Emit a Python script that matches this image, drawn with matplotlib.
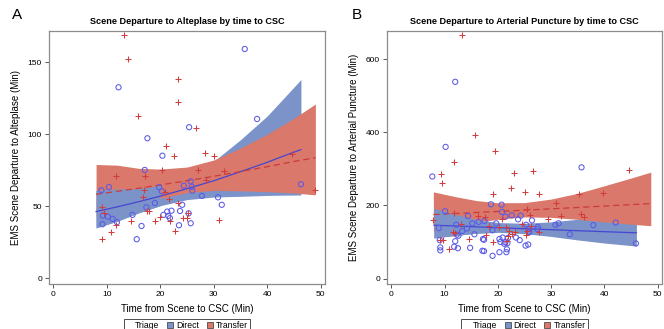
import matplotlib
matplotlib.use("Agg")
import matplotlib.pyplot as plt
from matplotlib.patches import Patch
import numpy as np

plt.rcParams["font.family"] = ["Liberation Sans", "DejaVu Sans"]

# ---- panel A: scene departure to alteplase ----
a_direct_x = [35.8, 12.2, 38.1, 25.4, 17.6, 20.4, 17.1, 25.7, 24.4, 25.9, 26.0, 19.8, 20.3, 10.4, 9.0,
              27.8, 30.8, 31.5, 46.3, 19.0, 24.1, 17.4, 9.3, 10.2, 14.8, 22.1, 21.3, 20.6, 21.5, 21.8,
              23.7, 23.5, 25.3, 25.7, 16.5, 15.6, 11.1, 11.9, 9.2]
a_direct_y = [159.2, 132.6, 110.6, 104.9, 97.2, 85.1, 75.2, 67.3, 64.3, 63.5, 60.8, 63.2, 60.4, 63.3, 61.1,
              57.2, 56.2, 51.0, 65.3, 52.2, 51.0, 49.3, 43.5, 42.8, 44.0, 46.9, 46.3, 44.0, 43.3, 41.7,
              46.7, 36.8, 45.1, 38.2, 36.3, 27.1, 41.2, 38.9, 37.5]
a_transfer_x = [13.3, 13.9, 23.3, 23.4, 15.9, 26.7, 21.1, 22.6, 28.3, 30.0, 44.7, 20.3, 11.7, 17.2, 27.0,
                32.0, 28.5, 20.8, 17.0, 16.7, 48.9, 21.6, 23.3, 9.2, 9.4, 17.5, 17.9, 19.9, 11.7, 14.6,
                19.0, 21.8, 25.2, 24.3, 25.0, 22.8, 10.8, 9.2, 31.0]
a_transfer_y = [168.7, 152.5, 138.4, 122.2, 112.5, 104.4, 91.9, 84.7, 86.8, 84.8, 86.2, 75.2, 71.2, 70.7, 75.1,
                74.6, 67.9, 59.6, 61.5, 56.5, 61.1, 54.9, 52.3, 49.5, 45.6, 46.7, 46.7, 42.3, 37.0, 40.0,
                39.9, 39.9, 45.4, 41.8, 42.0, 32.8, 32.3, 27.1, 40.2]

# fitted curves and confidence limits
a_dir_bx = [8, 12, 16, 20, 25, 30, 35, 40, 43, 46.3]
a_dir_fit = [46.3, 49.6, 53.2, 57.0, 62.2, 67.7, 74.0, 80.5, 84.8, 89.3]
a_dir_lo = [35.0, 39.7, 45.5, 50.4, 54.6, 56.4, 56.9, 57.5, 57.7, 57.8]
a_dir_hi = [61.0, 62.0, 62.2, 64.4, 70.9, 81.2, 96.2, 112.7, 124.7, 138.0]
a_tr_bx = [8, 12, 16, 20, 25, 30, 35, 40, 45, 49]
a_tr_fit = [58.3, 60.4, 62.5, 64.8, 67.7, 70.8, 74.1, 77.5, 81.1, 83.7]
a_tr_lo = [43.0, 46.5, 51.2, 55.4, 59.4, 61.0, 60.7, 60.1, 59.2, 57.9]
a_tr_hi = [79.0, 78.5, 76.3, 75.8, 77.2, 82.1, 90.4, 100.0, 111.1, 121.0]

# ---- panel B: scene departure to arterial puncture ----
b_direct_x = [12.0, 10.2, 35.7, 7.7, 18.7, 20.7, 10.1, 20.8, 14.4, 21.4, 22.6, 24.3, 16.4, 17.5, 23.8,
              26.4, 19.7, 15.2, 25.3, 27.5, 30.8, 31.4, 37.9, 42.1, 8.9, 12.2, 12.6, 13.3, 14.2, 15.6,
              19.0, 23.4, 21.9, 20.9, 24.1, 20.3, 25.7, 25.9, 17.2, 17.4, 33.5, 45.9, 9.2, 9.2, 12.0,
              11.8, 12.5, 14.8, 17.1, 17.4, 19.0, 20.3, 21.6, 21.7, 21.4, 25.2, 25.7, 20.5, 27.4, 25.8,
              9.1, 21.2, 21.8, 12.3]
b_direct_y = [538, 360, 304, 279, 203, 202, 184, 182, 171, 169, 173, 172, 155, 157, 162,
              159, 151, 151, 147, 141, 147, 151, 146, 153, 138, 147, 117, 130, 137, 121,
              132, 112, 111, 112, 105, 108, 136, 128, 108, 106, 121, 96, 85, 77, 102,
              87, 83, 84, 76, 75, 62, 72, 72, 80, 99, 90, 93, 100, 135, 126,
              105, 95, 97, 120]
b_transfer_x = [13.3, 15.8, 19.4, 11.7, 44.6, 26.6, 9.4, 23.0, 9.6, 22.5, 25.0, 27.7, 19.0, 35.3, 39.7,
                30.9, 25.4, 35.6, 36.1, 31.9, 26.1, 11.7, 7.9, 16.3, 29.5, 20.7, 11.5, 20.2, 22.1, 22.7,
                23.3, 25.4, 25.2, 27.8, 9.1, 10.8, 14.6, 21.7, 19.1, 13.0, 17.8, 18.3, 24.6, 21.5, 12.0,
                9.7, 17.5, 21.9, 26.2]
b_transfer_y = [666, 393, 349, 320, 298, 295, 286, 288, 261, 247, 236, 231, 230, 230, 234,
                207, 190, 177, 169, 172, 173, 178, 160, 171, 162, 164, 128, 141, 130, 123,
                128, 130, 119, 128, 105, 82, 108, 102, 99, 148, 120, 145, 150, 140, 125,
                105, 168, 115, 145]

b_dir_bx = [8, 12, 16, 20, 25, 30, 35, 40, 46]
b_dir_fit = [146.0, 143.6, 141.3, 139.0, 136.2, 133.5, 130.8, 128.1, 125.0]
b_dir_lo = [111.0, 117.7, 123.9, 126.4, 122.7, 115.1, 105.5, 97.0, 88.7]
b_dir_hi = [192.0, 175.2, 161.1, 152.9, 151.2, 154.9, 162.2, 169.1, 176.3]
b_tr_bx = [7.9, 12, 16, 20, 25, 30, 35, 40, 45, 48.7]
b_tr_fit = [175.0, 177.8, 180.6, 183.4, 187.0, 190.6, 194.3, 198.2, 202.1, 205.0]
b_tr_lo = [129.0, 141.1, 153.1, 162.3, 168.5, 167.2, 161.9, 154.8, 148.6, 144.4]
b_tr_hi = [237.0, 224.0, 213.1, 207.2, 207.6, 217.3, 233.2, 253.7, 274.9, 291.0]

band_blue = "#7b93c8"
band_red = "#d9786b"
pt_blue = "#5a5ae6"
pt_red = "#d23c3c"
line_blue = "#4646d2"
line_red = "#cc3b3b"


def draw_panel(ax, dx, dy, tx, ty, dband, tband, split_x):
    bx, fit, lo, hi = dband
    tbx, tfit, tlo, thi = tband
    # direct band underneath, transfer band, then left part of direct band on top
    ax.fill_between(bx, lo, hi, color=band_blue, lw=0, zorder=1)
    ax.fill_between(tbx, tlo, thi, color=band_red, lw=0, zorder=2)
    bxa = np.array(bx)
    ax.fill_between(bx, lo, hi, where=bxa <= split_x, interpolate=True,
                    color=band_blue, lw=0, zorder=3)
    ax.plot(bx, fit, color=line_blue, lw=0.9, zorder=5)
    ax.plot(tbx, tfit, color=line_red, lw=0.9, ls=(0, (5, 3)), zorder=5)
    ax.scatter(dx, dy, s=14, facecolors="none", edgecolors=pt_blue, linewidths=0.75, zorder=6)
    ax.scatter(tx, ty, s=18, marker="+", color=pt_red, linewidths=0.75, zorder=6)
    ax.set_xlim(-0.8, 50.8)
    ax.set_xticks([0, 10, 20, 30, 40, 50])
    for s in ax.spines.values():
        s.set_color("#8c8c8c")
        s.set_linewidth(0.9)
    ax.tick_params(labelsize=6, length=3, width=0.7, color="#555555", pad=2)
    ax.set_xlabel("Time from Scene to CSC (Min)", fontsize=7, labelpad=4)


fig = plt.figure(figsize=(6.64, 3.29), dpi=100)
axA = fig.add_axes([49 / 664, 45 / 329, 276 / 664, 253 / 329])
axB = fig.add_axes([387 / 664, 45 / 329, 275 / 664, 253 / 329])

draw_panel(axA, a_direct_x, a_direct_y, a_transfer_x, a_transfer_y,
           (a_dir_bx, a_dir_fit, a_dir_lo, a_dir_hi), (a_tr_bx, a_tr_fit, a_tr_lo, a_tr_hi), 20)
axA.set_ylim(-4, 171.7)
axA.set_yticks([0, 50, 100, 150])
axA.set_ylabel("EMS Scene Departure to Alteplase (Min)", fontsize=7, labelpad=5)
axA.set_title("Scene Departure to Alteplase by time to CSC", fontsize=6.6, fontweight="bold", pad=5)

draw_panel(axB, b_direct_x, b_direct_y, b_transfer_x, b_transfer_y,
           (b_dir_bx, b_dir_fit, b_dir_lo, b_dir_hi), (b_tr_bx, b_tr_fit, b_tr_lo, b_tr_hi), 20)
axB.set_ylim(-15, 677)
axB.set_yticks([0, 200, 400, 600])
axB.set_ylabel("EMS Scene Departure to Arterial Puncture (Min)", fontsize=7, labelpad=5)
axB.set_title("Scene Departure to Arterial Puncture by time to CSC", fontsize=6.6, fontweight="bold", pad=5)

fig.text(12 / 664, 1 - 15 / 329, "A", fontsize=11, va="center", ha="left")
fig.text(352 / 664, 1 - 15 / 329, "B", fontsize=11, va="center", ha="left")

handles = [Patch(facecolor="none", edgecolor="none"),
           Patch(facecolor=band_blue, edgecolor="#333333", lw=0.5),
           Patch(facecolor=band_red, edgecolor="#333333", lw=0.5)]
labels = ["Triage", "Direct", "Transfer"]
for ax in (axA, axB):
    cx = (ax.get_position().x0 + ax.get_position().x1) / 2
    leg = fig.legend(handles, labels, loc="upper center", bbox_to_anchor=(cx, 1 - 319 / 329),
                     ncol=3, fontsize=6.2, frameon=True, fancybox=False, handlelength=0.7,
                     handleheight=0.7, handletextpad=0.35, columnspacing=0.9,
                     borderpad=0.25, borderaxespad=0)
    leg.get_frame().set_edgecolor("#222222")
    leg.get_frame().set_linewidth(0.7)

fig.savefig("out.png", dpi=100)
